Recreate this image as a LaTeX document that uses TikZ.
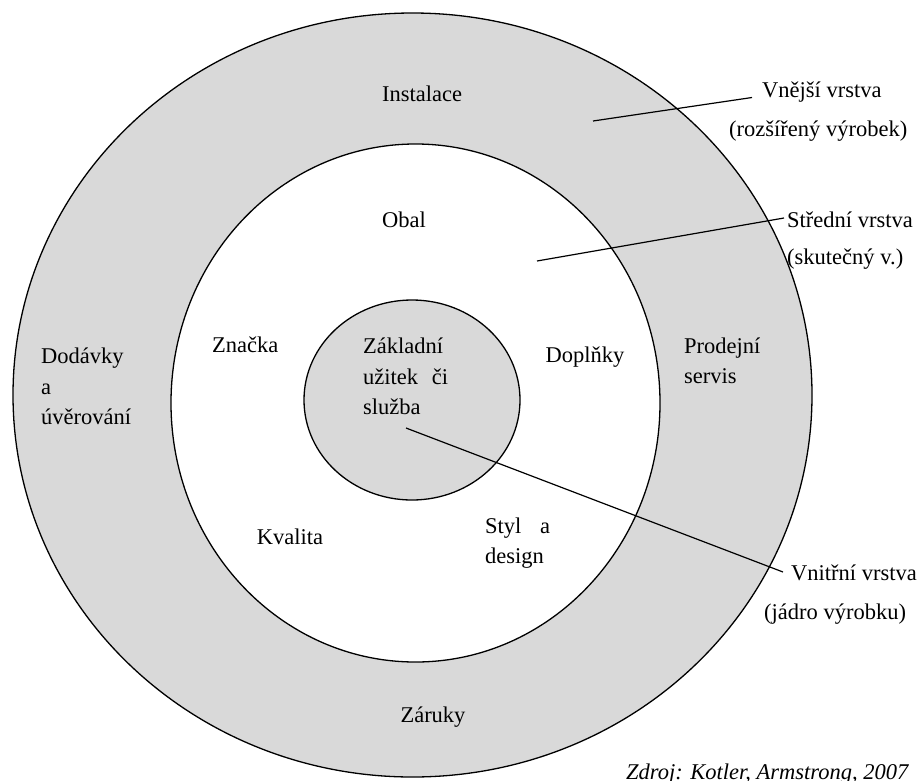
\documentclass[tikz,border=0pt]{standalone}
\usepackage{fontspec}
\setmainfont{Liberation Serif}
\definecolor{ringgray}{RGB}{217,217,217}
\begin{document}
\begin{tikzpicture}[x=1pt,y=-1pt,
  ring/.style={draw=black,line width=1.3pt},
  lbl/.style={inner sep=0pt,font=\fontsize{22.5}{30.5}\selectfont,align=left},
  leader/.style={draw=black,line width=1.2pt}]
\useasboundingbox (0,0) rectangle (918,780);
\path[ring,fill=ringgray] (412.5,395) ellipse [x radius=399.5, y radius=382];
\path[ring,fill=white] (415.5,403) ellipse [x radius=244.5, y radius=259];
\path[ring,fill=ringgray] (412,400) ellipse [x radius=108, y radius=100];

\node[lbl,anchor=base] (inst) at (422,101.5) {Instalace};
\node[lbl,anchor=base] (obal) at (404,227.5) {Obal};
\node[lbl,anchor=base west] (znacka) at (212,352.5) {Značka};
\node[lbl,anchor=base west] (zaklad) at (363,414.5) {Základní\\\makebox[85pt][s]{užitek či}\\služba};
\node[lbl,anchor=base] (doplnky) at (585,362.5) {Doplňky};
\node[lbl,anchor=base west] (prodej) at (684,383.5) {Prodejní\\servis};
\node[lbl,anchor=base west] (dodavky) at (41,424.5) {Dodávky\\a\\úvěrování};
\node[lbl,anchor=base] (kvalita) at (290,544.5) {Kvalita};
\node[lbl,anchor=base west] (styl) at (485,563.5) {\makebox[65pt][s]{Styl a}\\design};
\node[lbl,anchor=base] (zaruky) at (433,722.5) {Záruky};

\node[lbl,anchor=base west] (vnejsi) at (762,97.5) {Vnější vrstva};
\node[lbl,anchor=base west] (rozs) at (729,136.5) {(rozšířený výrobek)};
\node[lbl,anchor=base west] (stredni) at (787,227) {Střední vrstva};
\node[lbl,anchor=base west] (skut) at (787,264.5) {(skutečný v.)};
\node[lbl,anchor=base west] (vnitrni) at (791,580) {Vnitřní vrstva};
\node[lbl,anchor=base west] (jadro) at (764,619.5) {(jádro výrobku)};
\node[lbl,anchor=base west,font=\fontsize{22.5}{27}\selectfont\itshape] (zdroj) at (626,779) {Zdroj: Kotler, Armstrong, 2007};

\coordinate (pA) at (593,121);
\coordinate (pB) at (537,261);
\coordinate (pC) at (406,428);
\draw[leader] (pA) -- ([xshift=-10pt]vnejsi.base west);
\draw[leader] (pB) -- ([xshift=-3pt,yshift=9pt]stredni.base west);
\draw[leader] (pC) -- ([xshift=-8pt,yshift=8pt]vnitrni.base west);
\end{tikzpicture}
\end{document}
